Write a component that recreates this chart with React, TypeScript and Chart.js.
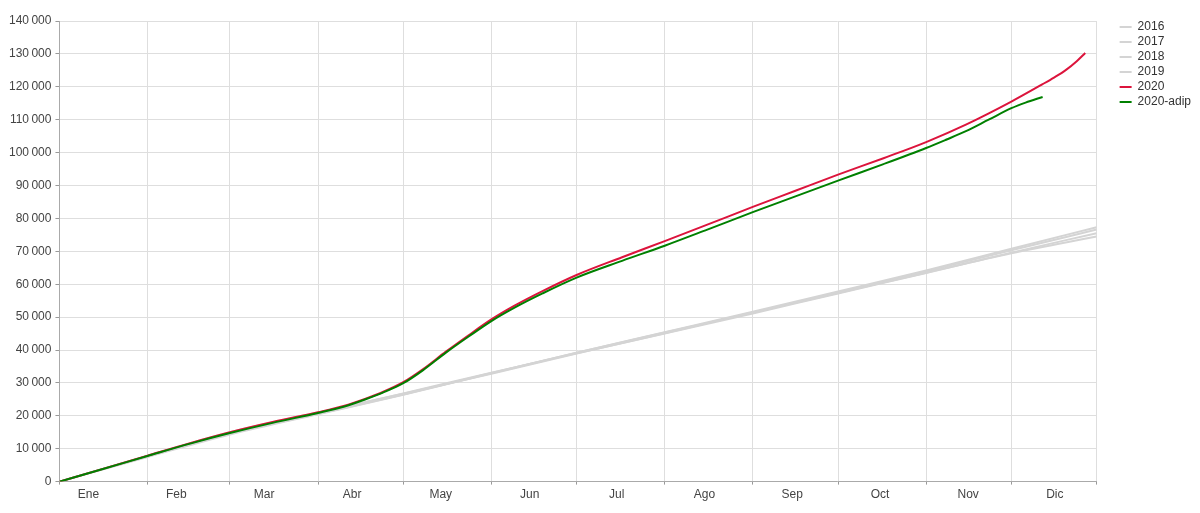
import { useEffect, useRef } from 'react';
import { Chart, registerables } from 'chart.js';

Chart.register(...registerables);

// ---- Axis / labels ----
const MONTHS = ['Ene', 'Feb', 'Mar', 'Abr', 'May', 'Jun', 'Jul', 'Ago', 'Sep', 'Oct', 'Nov', 'Dic'];
const MONTH_START_DAYS = [0, 31, 60, 91, 121, 152, 182, 213, 244, 274, 305, 335, 365];
const MONTH_LABEL_DAYS = [10.2, 41.1, 72, 103, 134.2, 165.5, 196.1, 227, 257.9, 288.8, 319.8, 350.3];
const Y_MIN = 0;
const Y_MAX = 140000;
const Y_STEP = 10000;

// ---- Series: previous years (cumulative) ----
const GRAY_DAYS = [0, 31, 60, 91, 121, 152, 182, 213, 244, 274, 305, 335, 365];
const V2016 = [0, 7600, 14600, 20900, 26800, 33100, 39000, 45000, 51100, 57200, 63400, 69600, 75500];
const V2017 = [0, 7900, 15000, 21000, 26700, 32800, 38900, 45100, 51400, 57300, 63500, 69400, 74500];
const V2018 = [0, 7800, 14600, 20600, 26500, 33000, 39200, 45300, 51300, 57500, 63900, 70300, 76600];
const V2019 = [0, 7500, 14300, 20500, 26400, 32900, 39200, 45400, 51600, 57800, 64200, 70800, 77300];

// ---- Series: 2020 ----
const DAYS_2020 = [0, 15, 31, 46, 60, 75, 91, 100, 108, 114, 121, 128, 136, 144, 152, 160, 170, 182, 198, 213, 228, 244, 259, 274, 290, 305, 319, 335, 346, 350, 354, 358, 361];
const V2020 = [0, 3800, 7900, 11700, 15000, 18100, 21100, 23000, 25300, 27300, 30200, 34200, 39500, 44500, 49300, 53400, 57900, 62800, 68200, 73100, 78100, 83500, 88400, 93300, 98300, 103200, 108500, 115500, 120800, 122800, 125000, 127800, 130300];

// ---- Series: 2020-adip ----
const DAYS_ADIP = [0, 15, 31, 46, 60, 75, 91, 100, 108, 114, 121, 128, 136, 144, 152, 160, 170, 182, 198, 213, 228, 244, 259, 274, 290, 305, 312, 319, 327, 335, 340, 346];
const VADIP = [0, 3750, 7800, 11550, 14750, 17850, 20850, 22750, 25100, 27100, 29900, 33900, 39200, 44100, 48800, 52800, 57200, 62000, 67100, 71700, 76600, 81900, 86700, 91500, 96500, 101400, 103900, 106500, 110000, 113500, 115200, 116900];

const GRAY = '#d4d4d4';
const RED = '#dc143c';
const GREEN = '#008000';
const TEXT = '#444444';
const FONT = "'Liberation Sans', Arial, sans-serif";

const pts = (days: number[], vals: number[]) => days.map((d, i) => ({ x: d, y: vals[i] }));

const fmt = (v: number) => {
  if (v < 1000) return String(v);
  const th = Math.floor(v / 1000);
  const rest = String(v % 1000).padStart(3, '0');
  return th + '\u2009' + rest;
};

export default function App() {
  const ref = useRef<HTMLCanvasElement | null>(null);

  useEffect(() => {
    if (!ref.current) return;
    const isBoundary = (v: number) => MONTH_START_DAYS.includes(v);
    const line = (label: string, data: any[], color: string, order: number) => ({
      label,
      data,
      borderColor: color,
      backgroundColor: color,
      borderWidth: 2,
      pointRadius: 0,
      pointHoverRadius: 0,
      fill: false,
      cubicInterpolationMode: 'monotone' as const,
      order,
      xAxisID: 'x',
      yAxisID: 'y',
    });

    const chart = new Chart(ref.current, {
      type: 'line',
      data: {
        datasets: [
          line('2016', pts(GRAY_DAYS, V2016), GRAY, 5),
          line('2017', pts(GRAY_DAYS, V2017), GRAY, 4),
          line('2018', pts(GRAY_DAYS, V2018), GRAY, 3),
          line('2019', pts(GRAY_DAYS, V2019), GRAY, 2),
          line('2020', pts(DAYS_2020, V2020), RED, 1),
          line('2020-adip', pts(DAYS_ADIP, VADIP), GREEN, 0),
        ],
      },
      options: {
        animation: false,
        responsive: false,
        events: [],
        layout: { padding: { top: 18, left: 5, right: -1, bottom: 8 } },
        plugins: {
          tooltip: { enabled: false },
          legend: {
            position: 'right',
            align: 'start',
            labels: {
              usePointStyle: true,
              pointStyle: 'line',
              pointStyleWidth: 12,
              padding: 3,
              color: '#333',
              font: { size: 12, family: FONT },
              sort: (a: any, b: any) => a.datasetIndex - b.datasetIndex,
            },
          },
        },
        scales: {
          x: {
            type: 'linear',
            position: 'bottom',
            min: 0,
            max: 365,
            afterBuildTicks: (scale: any) => {
              const vals = [...MONTH_START_DAYS, ...MONTH_LABEL_DAYS].sort((a, b) => a - b);
              scale.ticks = vals.map((v) => ({ value: v }));
            },
            ticks: {
              autoSkip: false,
              maxRotation: 0,
              padding: 3,
              color: TEXT,
              font: { size: 12, family: FONT },
              callback: (v: any) => {
                const i = MONTH_LABEL_DAYS.indexOf(Number(v));
                return i >= 0 ? MONTHS[i] : '';
              },
            },
            grid: {
              lineWidth: 1,
              tickLength: 3,
              color: (ctx: any) => (ctx.tick && isBoundary(ctx.tick.value) ? '#dedede' : 'rgba(0,0,0,0)'),
              tickColor: (ctx: any) => (ctx.tick && isBoundary(ctx.tick.value) ? '#999' : 'rgba(0,0,0,0)'),
            },
            border: { display: true, color: '#aaa', width: 1 },
          },
          xPad: {
            type: 'linear',
            axis: 'x',
            position: 'top',
            display: true,
            grid: { display: false, drawTicks: false },
            border: { display: false },
            ticks: { display: false },
            afterFit: (s: any) => {
              s.height = 3;
            },
          },
          y: {
            type: 'linear',
            position: 'left',
            min: Y_MIN,
            max: Y_MAX,
            ticks: {
              stepSize: Y_STEP,
              padding: 4,
              color: TEXT,
              font: { size: 12, family: FONT },
              callback: (v: any) => fmt(Number(v)),
            },
            grid: {
              lineWidth: 1,
              tickLength: 4,
              color: '#dedede',
              tickColor: '#999',
            },
            border: { display: true, color: '#aaa', width: 1 },
          },
          yPad: {
            type: 'linear',
            axis: 'y',
            position: 'right',
            display: true,
            grid: { display: false, drawTicks: false },
            border: { display: false },
            ticks: { display: false },
            afterFit: (s: any) => {
              s.width = 20;
            },
          },
        },
      } as any,
    });
    return () => chart.destroy();
  }, []);

  return (
    <canvas
      ref={ref}
      width={1200}
      height={513}
      style={{ position: 'absolute', left: 0, top: 0, width: 1200, height: 513, display: 'block' }}
    />
  );
}
